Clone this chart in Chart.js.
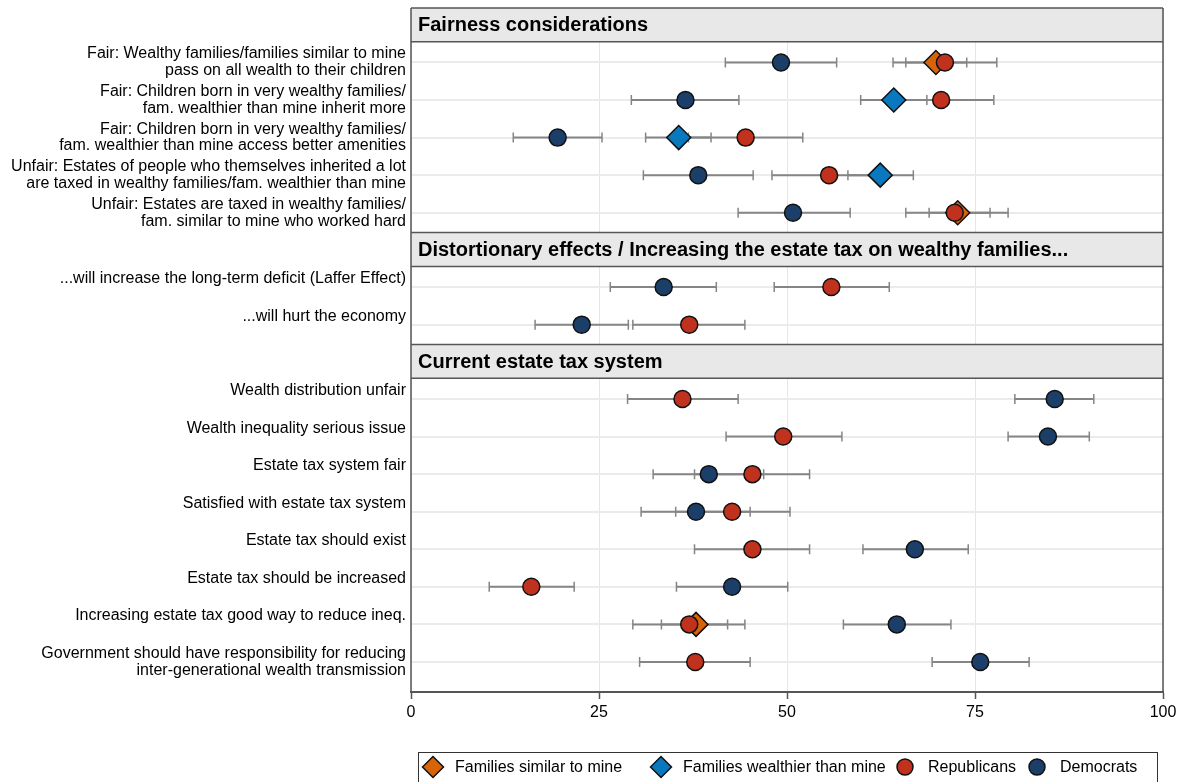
<!DOCTYPE html>
<html lang="en">
<head>
<meta charset="UTF-8">
<title>Estate tax attitudes</title>
<script src="https://cdn.jsdelivr.net/npm/chart.js@4.4.1/dist/chart.umd.min.js"></script>
<style>
  body { margin: 0; background: #fff; }
  #wrap { width: 1187px; height: 782px; }
</style>
</head>
<body>
<div id="wrap"><canvas id="grafico"></canvas></div>
<script>
// --- data ---
const panelTitles = [
  'Fairness considerations',
  'Distortionary effects / Increasing the estate tax on wealthy families...',
  'Current estate tax system'
];
const panelSizes = [5, 2, 8];
const questions = [
  ['Fair: Wealthy families/families similar to mine', 'pass on all wealth to their children'],
  ['Fair: Children born in very wealthy families/', 'fam. wealthier than mine inherit more'],
  ['Fair: Children born in very wealthy families/', 'fam. wealthier than mine access better amenities'],
  ['Unfair: Estates of people who themselves inherited a lot', 'are taxed in wealthy families/fam. wealthier than mine'],
  ['Unfair: Estates are taxed in wealthy families/', 'fam. similar to mine who worked hard'],
  ['...will increase the long-term deficit (Laffer Effect)', ''],
  ['...will hurt the economy', ''],
  ['Wealth distribution unfair', ''],
  ['Wealth inequality serious issue', ''],
  ['Estate tax system fair', ''],
  ['Satisfied with estate tax system', ''],
  ['Estate tax should exist', ''],
  ['Estate tax should be increased', ''],
  ['Increasing estate tax good way to reduce ineq.', ''],
  ['Government should have responsibility for reducing', 'inter-generational wealth transmission']
];

const similarMean = [69.8, null, null, null, 72.7, null, null, null, null, null, null, null, null, 37.9, null];
const similarLow  = [65.8, null, null, null, 68.9, null, null, null, null, null, null, null, null, 33.3, null];
const similarHigh = [73.9, null, null, null, 77.0, null, null, null, null, null, null, null, null, 42.1, null];

const wealthierMean = [null, 64.2, 35.6, 62.4, null, null, null, null, null, null, null, null, null, null, null];
const wealthierLow  = [null, 59.8, 31.2, 58.1, null, null, null, null, null, null, null, null, null, null, null];
const wealthierHigh = [null, 68.6, 39.9, 66.8, null, null, null, null, null, null, null, null, null, null, null];

const repMean = [71.0, 70.5, 44.5, 55.6, 72.3, 55.9, 37.0, 36.1, 49.5, 45.4, 42.7, 45.4, 16.0, 37.0, 37.8];
const repLow  = [64.1, 63.5, 36.9, 48.0, 65.8, 48.3, 29.5, 28.8, 41.9, 37.7, 35.2, 37.7, 10.4, 29.5, 30.4];
const repHigh = [77.9, 77.5, 52.1, 63.2, 79.4, 63.6, 44.4, 43.5, 57.3, 53.0, 50.4, 53.0, 21.7, 44.4, 45.1];

const demMean = [49.2, 36.5, 19.5, 38.2, 50.8, 33.6, 22.7, 85.6, 84.7, 39.6, 37.9, 67.0, 42.7, 64.6, 75.7];
const demLow  = [41.8, 29.3, 13.6, 30.9, 43.5, 26.5, 16.5, 80.3, 79.4, 32.2, 30.6, 60.1, 35.3, 57.5, 69.3];
const demHigh = [56.6, 43.6, 25.4, 45.5, 58.4, 40.6, 28.9, 90.8, 90.2, 46.9, 45.1, 74.1, 50.1, 71.8, 82.2];

const xTicks = [0, 25, 50, 75, 100];

// --- layout of the panels (in row units) ---
const HEAD = 0.9, TOP_GAP = 0.55, BOTTOM_GAP = 0.53, LAST_GAP = 0.8;
const rowY = [], panels = [];
let cursor = 0;
panelSizes.forEach((n, p) => {
  const top = cursor;
  const first = top + HEAD + TOP_GAP;
  for (let k = 0; k < n; k++) rowY.push(first + k);
  const bottom = first + n - 1 + (p === panelSizes.length - 1 ? LAST_GAP : BOTTOM_GAP);
  panels.push({ top, bottom, title: panelTitles[p] });
  cursor = bottom;
});
const yMax = cursor;

function puntos(mean, low, high) {
  const out = [];
  mean.forEach((v, i) => {
    if (v != null) out.push({ x: v, y: rowY[i], lo: low[i], hi: high[i] });
  });
  return out;
}

const FONT = "'Liberation Sans', Arial, Helvetica, sans-serif";
const BORDE = '#555555';

const series = [
  { label: 'Families similar to mine', data: puntos(similarMean, similarLow, similarHigh), color: '#D8640A', style: 'rectRot', r: 12, order: 4 },
  { label: 'Families wealthier than mine', data: puntos(wealthierMean, wealthierLow, wealthierHigh), color: '#0A78BE', style: 'rectRot', r: 12, order: 3 },
  { label: 'Republicans', data: puntos(repMean, repLow, repHigh), color: '#C0311E', style: 'circle', r: 8.5, order: 2 },
  { label: 'Democrats', data: puntos(demMean, demLow, demHigh), color: '#1B3F68', style: 'circle', r: 8.5, order: 1 }
];

// headers + error bars under the markers
const panelesPlugin = {
  id: 'paneles',
  beforeDatasetsDraw(chart) {
    const { ctx, chartArea: a, scales: { x, y } } = chart;
    ctx.save();
    // error bars
    ctx.strokeStyle = '#858585';
    chart.data.datasets.forEach(ds => {
      ds.data.forEach(p => {
        const x0 = x.getPixelForValue(p.lo), x1 = x.getPixelForValue(p.hi);
        const py = y.getPixelForValue(p.y);
        ctx.lineWidth = 2;
        ctx.beginPath();
        ctx.moveTo(x0, py); ctx.lineTo(x1, py);
        ctx.stroke();
        ctx.lineWidth = 1.5;
        ctx.beginPath();
        ctx.moveTo(x0, py - 5); ctx.lineTo(x0, py + 5);
        ctx.moveTo(x1, py - 5); ctx.lineTo(x1, py + 5);
        ctx.stroke();
      });
    });
    // panel headers
    panels.forEach(p => {
      const t = y.getPixelForValue(p.top), b = y.getPixelForValue(p.top + HEAD);
      ctx.fillStyle = '#e8e8e8';
      ctx.fillRect(a.left, t, a.right - a.left, b - t);
      ctx.fillStyle = '#000';
      ctx.font = 'bold 20px ' + FONT;
      ctx.textBaseline = 'middle';
      ctx.textAlign = 'left';
      ctx.fillText(p.title, a.left + 7, (t + b) / 2 + 1);
    });
    ctx.restore();
  },
  afterDraw(chart) {
    const { ctx, chartArea: a, scales: { y } } = chart;
    ctx.save();
    ctx.strokeStyle = BORDE;
    ctx.lineWidth = 1.5;
    panels.forEach(p => {
      const t = y.getPixelForValue(p.top), b = y.getPixelForValue(p.top + HEAD);
      ctx.beginPath();
      ctx.moveTo(a.left, t); ctx.lineTo(a.right, t);
      ctx.moveTo(a.left, b); ctx.lineTo(a.right, b);
      ctx.stroke();
    });
    ctx.beginPath();
    ctx.moveTo(a.left, a.top); ctx.lineTo(a.left, a.bottom);
    ctx.moveTo(a.right, a.top); ctx.lineTo(a.right, a.bottom);
    ctx.stroke();

    // legend
    const lx = 418, ly = 752;
    ctx.lineWidth = 1;
    ctx.strokeStyle = '#333';
    ctx.strokeRect(lx + 0.5, ly + 0.5, 739, 60);
    const symX = [433, 661, 905, 1037];
    ctx.font = '16px ' + FONT;
    ctx.textBaseline = 'middle';
    ctx.textAlign = 'left';
    series.forEach((s, i) => {
      ctx.fillStyle = s.color;
      ctx.strokeStyle = '#111';
      ctx.lineWidth = 1.5;
      const r = s.style === 'circle' ? 8 : 10.5;
      Chart.helpers.drawPoint(ctx, { pointStyle: s.style, radius: r, rotation: 0, borderWidth: 1.5 }, symX[i], ly + 15);
      ctx.fillStyle = '#000';
      ctx.fillText(s.label, symX[i] + (s.style === 'circle' ? 23 : 22), ly + 16);
    });
    ctx.restore();
  }
};

const grafico = new Chart(document.getElementById('grafico'), {
  type: 'scatter',
  data: {
    datasets: series.map(s => ({
      label: s.label,
      data: s.data,
      order: s.order,
      pointStyle: s.style,
      pointRadius: s.r,
      pointHoverRadius: s.r,
      pointBackgroundColor: s.color,
      pointBorderColor: '#111',
      pointBorderWidth: 1.5,
      showLine: false
    }))
  },
  options: {
    responsive: true,
    maintainAspectRatio: false,
    animation: false,
    layout: { autoPadding: false, padding: { top: 8, right: 24, left: 0, bottom: 0 } },
    plugins: { legend: { display: false }, tooltip: { enabled: false } },
    scales: {
      x: {
        type: 'linear',
        min: 0, max: 100,
        afterBuildTicks: s => { s.ticks = xTicks.map(v => ({ value: v })); },
        afterFit: s => { s.height = 90; s.paddingLeft = 0; s.paddingRight = 0; },
        grid: { color: '#e6e6e6', lineWidth: 1, tickLength: 7, tickColor: BORDE, tickWidth: 1.5 },
        border: { color: BORDE, width: 2 },
        ticks: { color: '#000', font: { family: FONT, size: 16 }, padding: 4, maxRotation: 0 }
      },
      y: {
        type: 'linear',
        reverse: true,
        min: 0, max: yMax,
        afterBuildTicks: s => { s.ticks = rowY.map(v => ({ value: v })); },
        afterFit: s => { s.width = 411; s.paddingTop = 0; s.paddingBottom = 0; },
        grid: { color: '#ebebeb', lineWidth: 2, drawTicks: false },
        border: { display: false },
        ticks: {
          autoSkip: false,
          color: '#000',
          padding: 5,
          font: { family: FONT, size: 16, lineHeight: 1.06 },
          callback: (v, i) => questions[i]
        }
      }
    }
  },
  plugins: [panelesPlugin]
});
</script>
</body>
</html>
